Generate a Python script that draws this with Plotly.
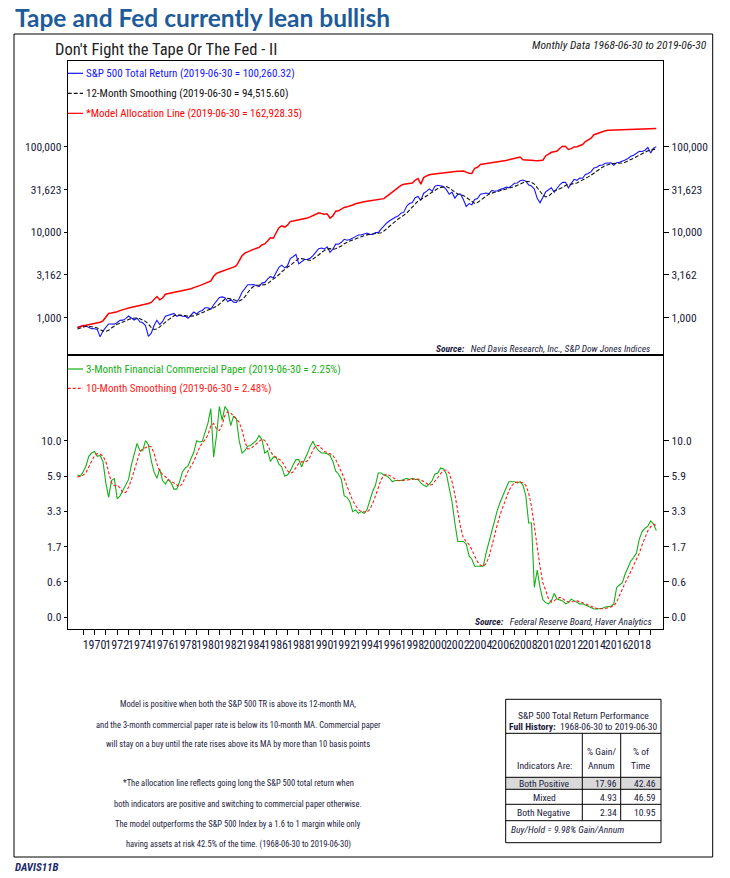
import math
import plotly.graph_objects as go

# ---------------- data (quarter-end values, Jun-1968 .. Jun-2019) ----------------
quarter_dates = [f"{y}-{md}" for y in range(1968, 2020)
                 for md in ("03-31", "06-30", "09-30", "12-31")]
quarter_dates = [d for d in quarter_dates if "1968-06-30" <= d <= "2019-06-30"]

spx_tr = [
    768, 798, 813,
    800, 776, 745, 743,
    729, 597, 698, 771,
    845, 846, 841, 880,
    931, 937, 975, 1048,
    998, 941, 986, 895,
    873, 808, 604, 660,
    811, 935, 833, 905,
    1042, 1067, 1087, 1121,
    1038, 1072, 1042, 1038,
    987, 1070, 1164, 1105,
    1184, 1215, 1308, 1308,
    1253, 1419, 1579, 1729,
    1754, 1713, 1536, 1641,
    1520, 1508, 1680, 1989,
    2188, 2431, 2428, 2438,
    2381, 2317, 2541, 2588,
    2826, 3033, 2909, 3411,
    3890, 4120, 3833, 4049,
    4914, 5161, 5506, 4261,
    4505, 4802, 4817, 4964,
    5316, 5782, 6403, 6535,
    6343, 6740, 5816, 6330,
    7251, 7231, 7618, 8256,
    8050, 8197, 8452, 8878,
    9269, 9310, 9550, 9776,
    9408, 9442, 9902, 9898,
    10858, 11888, 12832, 13609,
    14338, 14974, 15427, 16714,
    17157, 20142, 21650, 22272,
    25377, 26206, 23588, 28610,
    30031, 32142, 30124, 34611,
    35407, 34471, 34144, 31478,
    27759, 29395, 25077, 27758,
    27859, 24134, 19964, 21635,
    20947, 24169, 24807, 27812,
    28290, 28778, 28237, 30833,
    30171, 30583, 31688, 32336,
    33692, 33201, 35075, 37406,
    37645, 40010, 40815, 39432,
    35742, 34804, 31915, 24871,
    22095, 25604, 29611, 31417,
    33103, 29315, 32613, 36111,
    38269, 38320, 33003, 36877,
    41530, 40387, 42949, 42752,
    47274, 48634, 51169, 56526,
    57530, 60517, 61181, 64172,
    64791, 64981, 60791, 65055,
    65902, 67511, 70110, 72770,
    77163, 79524, 83067, 88571,
    87905, 90914, 97922, 84643,
    96154, 100260,
]

spx_ma12 = [
    740, 760, 780,
    795, 796, 790, 775,
    757, 726, 698, 695,
    713, 759, 808, 839,
    864, 886, 914, 952,
    981, 990, 992, 974,
    939, 907, 843, 766,
    729, 737, 781, 840,
    900, 945, 994, 1052,
    1079, 1079, 1074, 1058,
    1041, 1035, 1050, 1073,
    1106, 1149, 1185, 1228,
    1262, 1297, 1356, 1442,
    1558, 1657, 1688, 1672,
    1632, 1577, 1569, 1631,
    1758, 1957, 2166, 2315,
    2395, 2405, 2405, 2438,
    2512, 2658, 2793, 2942,
    3178, 3447, 3698, 3893,
    4101, 4359, 4698, 4934,
    4909, 4813, 4682, 4684,
    4873, 5097, 5418, 5813,
    6137, 6386, 6432, 6333,
    6421, 6596, 6882, 7348,
    7689, 7910, 8135, 8317,
    8547, 8838, 9115, 9364,
    9494, 9528, 9588, 9647,
    9844, 10331, 11003, 11833,
    12732, 13553, 14263, 14975,
    15716, 16714, 18138, 19611,
    21333, 23118, 24119, 25153,
    26527, 27851, 29410, 30977,
    32399, 33362, 34156, 34267,
    32919, 31329, 29561, 27962,
    27510, 26865, 25568, 24163,
    22534, 21674, 22284, 23662,
    25352, 26846, 27851, 28657,
    29270, 29730, 30387, 31007,
    31635, 32402, 33153, 34210,
    35338, 36683, 38252, 39222,
    39238, 38349, 36586, 33653,
    30127, 27271, 25833, 26364,
    28558, 30398, 31237, 32199,
    33431, 35203, 36377, 36522,
    37025, 37691, 39193, 41170,
    42623, 44371, 46430, 49179,
    52183, 54950, 57687, 59894,
    61758, 63223, 63733, 63794,
    64043, 64499, 65980, 68109,
    70481, 73390, 76511, 80106,
    83424, 86191, 89471, 90837,
    92500, 94516,
]

model_line = [
    768, 790, 805,
    815, 825, 840, 855,
    870, 885, 920, 1010,
    1120, 1135, 1150, 1175,
    1210, 1230, 1270, 1300,
    1320, 1340, 1370, 1395,
    1420, 1445, 1470, 1510,
    1660, 1770, 1620, 1700,
    1880, 1920, 1950, 1990,
    2010, 2040, 2070, 2100,
    2130, 2180, 2250, 2300,
    2380, 2440, 2520, 2600,
    2700, 3050, 3300, 3400,
    3480, 3580, 3680, 3780,
    3900, 4050, 4600, 5300,
    5700, 5950, 6100, 6300,
    6450, 6650, 7100, 7300,
    7900, 8600, 8500, 10000,
    11300, 11900, 11500, 12100,
    13300, 13500, 13700, 13900,
    14000, 14300, 14700, 15100,
    15500, 16200, 16900, 16600,
    16200, 16400, 14600, 15500,
    17600, 17800, 18500, 19500,
    19800, 20200, 20800, 21500,
    22000, 22300, 22700, 23000,
    23200, 23400, 23700, 23900,
    24200, 24700, 26200, 27800,
    29200, 31000, 32500, 35300,
    36300, 37000, 37300, 37700,
    40500, 42500, 36500, 43500,
    45500, 47000, 47500, 48000,
    48600, 49300, 50000, 50500,
    51000, 51300, 51500, 51700,
    51800, 51900, 50500, 49000,
    48700, 56000, 57500, 62000,
    62800, 63500, 64000, 64700,
    65200, 65800, 66600, 67800,
    69000, 70200, 71500, 73000,
    74500, 75800, 70500, 69800,
    69400, 69000, 68800, 68600,
    68500, 69500, 78000, 82000,
    86000, 87500, 89000, 96000,
    101500, 100500, 93000, 95000,
    99500, 100000, 104000, 106000,
    115000, 120000, 126000, 138000,
    142000, 147000, 149000, 153500,
    155500, 155800, 155900, 156000,
    156100, 156200, 156400, 156700,
    157000, 157400, 157900, 158500,
    159200, 160000, 160900, 161800,
    162400, 162928,
]

cp_rate = [
    5.9, 5.8, 6.2,
    6.8, 7.9, 8.3, 8.5,
    7.9, 8.0, 7.3, 5.2,
    4.1, 5.4, 5.6, 4.0,
    4.2, 4.6, 5.1, 5.5,
    6.9, 8.0, 9.6, 8.6,
    8.6, 10.0, 9.4, 7.4,
    6.2, 5.6, 6.5, 5.4,
    5.1, 5.5, 5.2, 4.7,
    4.7, 5.3, 6.2, 6.6,
    6.8, 7.6, 8.4, 10.0,
    9.8, 9.9, 11.5, 13.0,
    16.0, 7.8, 10.8, 16.5,
    13.5, 16.5, 15.5, 12.5,
    14.3, 13.8, 10.0, 8.3,
    8.6, 9.2, 9.3, 9.6,
    10.0, 10.8, 10.2, 8.3,
    8.6, 7.3, 7.8, 7.8,
    7.0, 6.7, 5.8, 5.9,
    6.3, 6.9, 7.5, 7.5,
    6.7, 7.5, 8.2, 9.2,
    9.9, 9.1, 8.6, 8.3,
    8.3, 8.2, 8.0, 7.3,
    6.3, 6.0, 5.5, 4.2,
    4.1, 3.8, 3.2, 3.3,
    3.1, 3.2, 3.1, 3.3,
    3.9, 4.5, 5.0, 6.1,
    6.1, 5.9, 5.8, 5.6,
    5.3, 5.4, 5.4, 5.4,
    5.5, 5.6, 5.5, 5.6,
    5.5, 5.5, 5.2, 5.0,
    4.9, 5.1, 5.4, 6.0,
    6.1, 6.6, 6.5, 6.0,
    4.8, 3.8, 2.6, 1.8,
    1.8, 1.8, 1.7, 1.3,
    1.2, 1.0, 1.0, 1.0,
    1.0, 1.4, 1.8, 2.3,
    2.8, 3.3, 3.8, 4.3,
    4.8, 5.3, 5.3, 5.3,
    5.2, 5.3, 5.0, 4.2,
    2.6, 2.6, 0.5, 0.9,
    0.5, 0.27, 0.22, 0.2,
    0.25, 0.38, 0.28, 0.27,
    0.25, 0.2, 0.22, 0.28,
    0.25, 0.22, 0.2, 0.2,
    0.18, 0.15, 0.13, 0.12,
    0.12, 0.12, 0.13, 0.15,
    0.16, 0.16, 0.2, 0.5,
    0.55, 0.6, 0.8, 0.95,
    1.15, 1.25, 1.4, 1.9,
    2.2, 2.35, 2.45, 2.7,
    2.55, 2.25,
]

cp_ma10 = [
    5.7, 5.8, 5.9,
    6.12, 6.62, 7.32, 7.95,
    8.23, 8.18, 7.93, 7.28,
    6.18, 5.22, 4.97, 5.02,
    4.8, 4.43, 4.45, 4.85,
    5.45, 6.32, 7.48, 8.45,
    8.83, 9.0, 9.2, 9.13,
    8.3, 7.03, 6.25, 5.97,
    5.75, 5.5, 5.3, 5.2,
    5.0, 4.88, 5.15, 5.72,
    6.28, 6.77, 7.3, 8.13,
    9.03, 9.65, 10.15, 10.93,
    12.48, 12.88, 11.9, 11.62,
    12.65, 14.55, 15.33, 15.0,
    14.47, 13.82, 13.12, 11.7,
    9.83, 8.83, 8.87, 9.2,
    9.5, 9.88, 10.23, 10.05,
    9.4, 8.55, 7.98, 7.77,
    7.58, 7.35, 6.83, 6.32,
    6.07, 6.18, 6.63, 7.1,
    7.27, 7.23, 7.35, 7.88,
    8.7, 9.25, 9.3, 8.93,
    8.53, 8.33, 8.22, 8.0,
    7.52, 6.87, 6.23, 5.58,
    4.92, 4.32, 3.87, 3.57,
    3.32, 3.2, 3.17, 3.17,
    3.32, 3.67, 4.18, 4.83,
    5.47, 5.88, 5.98, 5.85,
    5.67, 5.5, 5.4, 5.38,
    5.42, 5.47, 5.52, 5.55,
    5.55, 5.53, 5.47, 5.32,
    5.13, 5.02, 5.07, 5.32,
    5.67, 6.03, 6.32, 6.38,
    6.07, 5.32, 4.3, 3.23,
    2.4, 1.93, 1.78, 1.68,
    1.5, 1.28, 1.12, 1.03,
    1.0, 1.07, 1.27, 1.62,
    2.07, 2.55, 3.05, 3.55,
    4.05, 4.55, 4.97, 5.22,
    5.28, 5.27, 5.22, 5.0,
    4.38, 3.53, 2.52, 1.62,
    0.98, 0.6, 0.44, 0.28,
    0.23, 0.25, 0.29, 0.31,
    0.29, 0.25, 0.23, 0.23,
    0.24, 0.25, 0.24, 0.22,
    0.2, 0.185, 0.165, 0.143,
    0.128, 0.122, 0.122, 0.128,
    0.14, 0.152, 0.165, 0.23,
    0.35, 0.48, 0.6, 0.72,
    0.875, 1.04, 1.19, 1.39,
    1.68, 1.99, 2.24, 2.42,
    2.53, 2.48,
]

top_tick_vals = [1000, 3162, 10000, 31623, 100000]
top_tick_text = ["1,000", "3,162", "10,000", "31,623", "100,000"]
bottom_tick_text = ["0.0", "0.6", "1.7", "3.3", "5.9", "10.0"]
year_ticks = list(range(1969, 2020))

# ---------------- helpers ----------------
W, H = 730, 878
FONT = "Liberation Sans Narrow, Arial Narrow, Roboto Condensed, Liberation Sans, sans-serif"
TXT = "#1a1a3c"


def fx(x):
    return x / W


def fy(y):
    return 1 - y / H


# bottom panel: rate plotted on a log(rate+1) scale with evenly spaced labels
def rate_scale(v):
    return math.log10(v + 1.0)


scale_top = math.log10(11.0)
bottom_tick_vals = [scale_top * k / 5 for k in range(6)]

X0, X1 = 67.7, 663.3
TOP_Y0, MID_Y, BOT_Y1 = 60.7, 355.0, 629.0
x_range = ["1967-08-22", "2020-02-09"]

fig = go.Figure()

# top panel
fig.add_trace(go.Scatter(x=quarter_dates, y=spx_ma12, mode="lines", xaxis="x", yaxis="y3",
                         line=dict(color="#111111", width=1.1, dash="4px,2px"), hoverinfo="skip"))
fig.add_trace(go.Scatter(x=quarter_dates, y=spx_tr, mode="lines", xaxis="x", yaxis="y",
                         line=dict(color="#1414ff", width=1.1), hoverinfo="skip"))
fig.add_trace(go.Scatter(x=quarter_dates, y=model_line, mode="lines", xaxis="x", yaxis="y",
                         line=dict(color="#ff0000", width=1.5), hoverinfo="skip"))
# bottom panel
fig.add_trace(go.Scatter(x=quarter_dates, y=[rate_scale(v) for v in cp_rate], mode="lines",
                         xaxis="x2", yaxis="y2", line=dict(color="#16b016", width=1.1), hoverinfo="skip"))
fig.add_trace(go.Scatter(x=quarter_dates, y=[rate_scale(v) for v in cp_ma10], mode="lines",
                         xaxis="x2", yaxis="y4", line=dict(color="#ff1a1a", width=1.1, dash="3px,2px"),
                         hoverinfo="skip"))

axis_common = dict(showgrid=False, zeroline=False, linecolor="black", linewidth=1,
                   tickcolor="black", tickwidth=1)
yfont = dict(family=FONT, size=11.5, color=TXT)
xfont = dict(family=FONT, size=12, color=TXT)

top_log_range = [2.564, 6.006]
bot_range = [-0.069, 1.5466]

fig.update_layout(
    width=W, height=H, autosize=False,
    margin=dict(l=0, r=0, t=0, b=0),
    paper_bgcolor="white", plot_bgcolor="white",
    showlegend=False,
    xaxis=dict(domain=[fx(X0), fx(X1)], anchor="y", type="date", range=x_range,
               showticklabels=False, ticks="", showline=True, mirror=True, **axis_common),
    yaxis=dict(domain=[fy(MID_Y), fy(TOP_Y0)], anchor="x", type="log", range=top_log_range,
               tickvals=top_tick_vals, ticktext=top_tick_text, ticks="outside", ticklen=3,
               showline=True, mirror=True, tickfont=yfont, **axis_common),
    yaxis3=dict(overlaying="y", side="right", anchor="x", type="log", range=top_log_range,
                tickvals=top_tick_vals, ticktext=top_tick_text, ticks="outside", ticklen=5,
                showline=False, tickfont=yfont, **axis_common),
    xaxis2=dict(domain=[fx(X0), fx(X1)], anchor="y2", type="date", range=x_range,
                tickvals=[f"{y}-01-01" for y in year_ticks],
                ticktext=[str(y) if y % 2 == 0 else "" for y in year_ticks],
                ticks="outside", ticklen=5, tickangle=0, showline=True, mirror=True,
                tickfont=xfont, **axis_common),
    yaxis2=dict(domain=[fy(BOT_Y1), fy(MID_Y)], anchor="x2", range=bot_range,
                tickvals=bottom_tick_vals, ticktext=bottom_tick_text, ticks="outside", ticklen=3,
                showline=True, mirror=True, tickfont=yfont, **axis_common),
    yaxis4=dict(overlaying="y2", side="right", anchor="x2", range=bot_range,
                tickvals=bottom_tick_vals, ticktext=bottom_tick_text, ticks="outside", ticklen=5,
                showline=False, tickfont=yfont, **axis_common),
)

shapes = []
annotations = []


def line_px(x0, y0, x1, y1, color="black", width=1, dash=None):
    ln = dict(color=color, width=width)
    if dash:
        ln["dash"] = dash
    shapes.append(dict(type="line", xref="paper", yref="paper", x0=fx(x0), y0=fy(y0),
                       x1=fx(x1), y1=fy(y1), line=ln, layer="above"))


def rect_px(x0, y0, x1, y1, fill=None, color="black", width=1, layer="above"):
    d = dict(type="rect", xref="paper", yref="paper", x0=fx(x0), y0=fy(y0), x1=fx(x1), y1=fy(y1),
             line=dict(color=color, width=width), layer=layer)
    if fill:
        d["fillcolor"] = fill
    shapes.append(d)


def text_px(x, y, text, size=11, color=TXT, xanchor="left", family=FONT):
    annotations.append(dict(x=fx(x), y=fy(y), xref="paper", yref="paper", text=text, showarrow=False,
                            xanchor=xanchor, yanchor="middle", font=dict(family=family, size=size, color=color)))


# outer frame
rect_px(14, 34, 712.7, 857, width=1)

# titles
text_px(13, 18, "<b>Tape and Fed currently lean bullish</b>", size=24.5, color="#1d5b9b",
        family="Lato, Open Sans, sans-serif")
text_px(53, 49, "Don't Fight the Tape Or The Fed - II", size=16.5, color="#222222")
text_px(709, 45, "<i>Monthly Data 1968-06-30 to 2019-06-30</i>", size=11.5, color="#222222", xanchor="right")

# top legend
leg_top = [(73.3, "#1414ff", None, "S&amp;P 500 Total Return (2019-06-30 = 100,260.32)", "#1414ff"),
           (93.3, "#111111", "4px,2px", "12-Month Smoothing (2019-06-30 = 94,515.60)", "#111111"),
           (113.3, "#ff0000", None, "*Model Allocation Line (2019-06-30 = 162,928.35)", "#ff0000")]
for yy, col, dash, label, tcol in leg_top:
    line_px(X0, yy, 83, yy, color=col, width=1.2, dash=dash)
    text_px(83.5, yy, label, size=11, color=tcol)

# bottom legend
leg_bot = [(369.0, "#16b016", None, "3-Month Financial Commercial Paper (2019-06-30 = 2.25%)", "#16b016"),
           (388.3, "#ff1a1a", "3px,2px", "10-Month Smoothing (2019-06-30 = 2.48%)", "#ff1a1a")]
for yy, col, dash, label, tcol in leg_bot:
    line_px(X0, yy, 83, yy, color=col, width=1.2, dash=dash)
    text_px(83.5, yy, label, size=11, color=tcol)

# sources
text_px(652, 348.3, "<b><i>Source:</i></b>   <i>Ned Davis Research, Inc., S&amp;P Dow Jones Indices</i>",
        size=9.5, xanchor="right")
text_px(654, 621.7, "<b><i>Source:</i></b>   <i>Federal Reserve Board, Haver Analytics</i>",
        size=9.5, xanchor="right")

# explanatory text
notes = [(704, "Model is positive when both the S&amp;P 500 TR is above its 12-month MA,"),
         (725, "and the 3-month commercial paper rate is below its 10-month MA. Commercial paper"),
         (744.3, "will stay on a buy until the rate rises above its MA by more than 10 basis points"),
         (783.3, "*The allocation line reflects going long the S&amp;P 500 total return when"),
         (804, "both indicators are positive and switching to commercial paper otherwise."),
         (824, "The model outperforms the S&amp;P 500 Index by a 1.6 to 1 margin while only"),
         (844.3, "having assets at risk 42.5% of the time. (1968-06-30 to 2019-06-30)")]
for yy, t in notes:
    text_px(238, yy, t, size=8.5, xanchor="center")

# performance table
TX0, TX1, TY0, TY1 = 505.7, 661.0, 699.3, 842.7
C1, C2 = 582.3, 620.7
rect_px(TX0, 777.3, TX1, 789.3, fill="#d9d9d9", color="rgba(0,0,0,0)", width=0, layer="below")
rect_px(TX0, TY0, TX1, TY1, width=1)
for yy in (733.3, 777.3, 789.3, 804.3, 820.7):
    line_px(TX0, yy, TX1, yy, width=1)
for xx in (C1, C2):
    line_px(xx, 733.3, xx, 820.7, width=1)

tbl_size = 9.6
text_px((TX0 + TX1) / 2, 715, "S&amp;P 500 Total Return Performance", size=tbl_size, xanchor="center")
text_px((TX0 + TX1) / 2, 726, "<b>Full History:</b>  1968-06-30 to 2019-06-30", size=tbl_size, xanchor="center")
text_px((C1 + C2) / 2, 751.7, "% Gain/", size=tbl_size, xanchor="center")
text_px((C1 + C2) / 2, 765, "Annum", size=tbl_size, xanchor="center")
text_px((C2 + TX1) / 2, 751.7, "% of", size=tbl_size, xanchor="center")
text_px((C2 + TX1) / 2, 765, "Time", size=tbl_size, xanchor="center")
text_px((TX0 + C1) / 2, 765, "Indicators Are:", size=tbl_size, xanchor="center")

table_rows = ["Both Positive", "Mixed", "Both Negative"]
table_gain = ["17.96", "4.93", "2.34"]
table_time = ["42.46", "46.59", "10.95"]
row_y = [783.3, 797.3, 812.5]
for yy, r, g, t in zip(row_y, table_rows, table_gain, table_time):
    text_px((TX0 + C1) / 2, yy, r, size=tbl_size, xanchor="center")
    text_px(C2 - 2, yy, g, size=tbl_size, xanchor="right")
    text_px(TX1 - 3, yy, t, size=tbl_size, xanchor="right")
text_px(TX0 + 3, 829, "<i>Buy/Hold = 9.98% Gain/Annum</i>", size=tbl_size)

# footer
text_px(13, 867, "<b><i>DAVIS11B</i></b>", size=11, color="#1a2a6a")

fig.update_layout(shapes=shapes, annotations=annotations)
fig.write_html("out.html", config={"displayModeBar": False},
               post_script="document.body.style.margin='0';document.body.style.padding='0';")
